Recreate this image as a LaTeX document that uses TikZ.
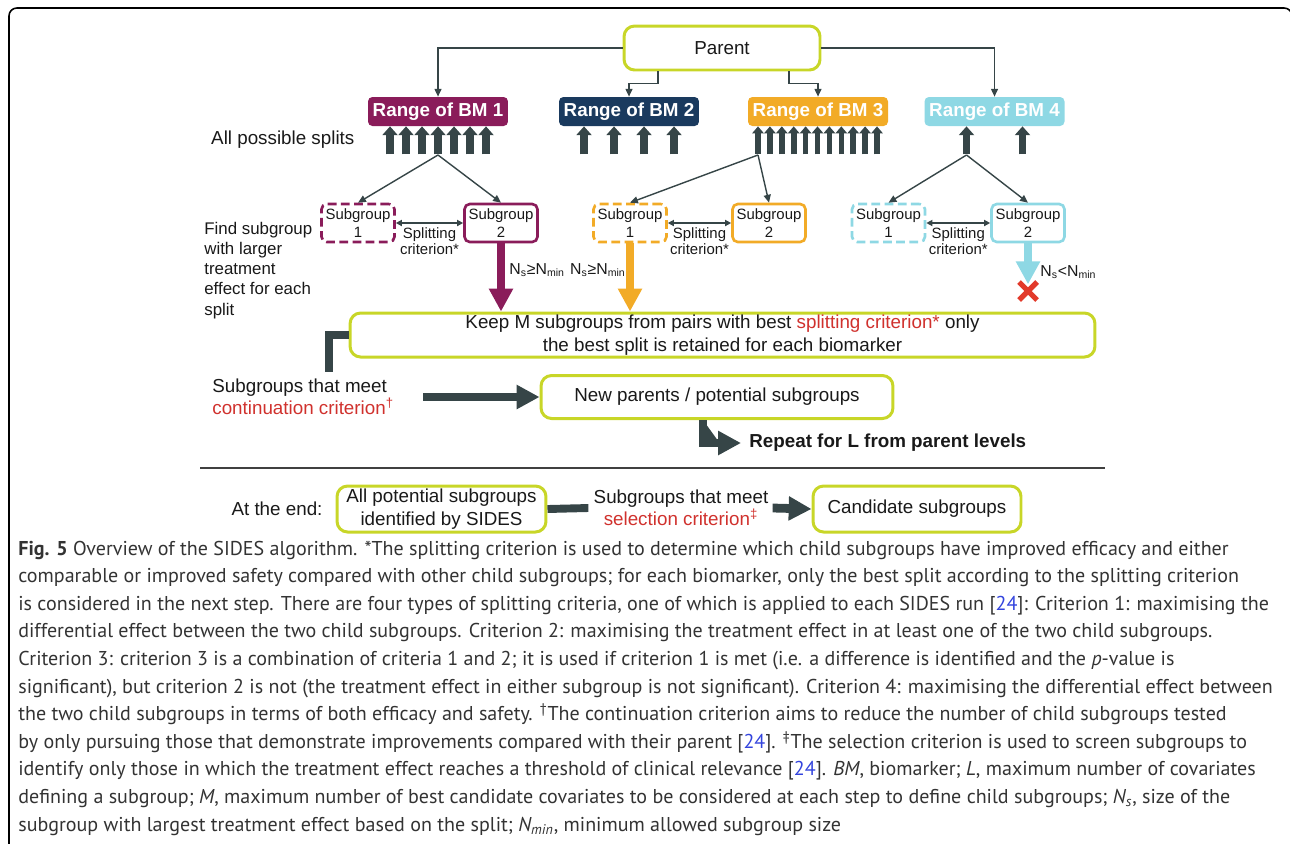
\documentclass[tikz,border=0pt]{standalone}
\usepackage{fontspec}
\setmainfont{Liberation Sans}
\newfontfamily\capfont{PT Sans}
\usetikzlibrary{arrows.meta}
\definecolor{lime}{RGB}{200,214,40}
\definecolor{bmone}{RGB}{138,28,90}
\definecolor{bmtwo}{RGB}{26,58,94}
\definecolor{bmthree}{RGB}{242,171,39}
\definecolor{bmfour}{RGB}{142,216,228}
\definecolor{slate}{RGB}{54,69,71}
\definecolor{critred}{RGB}{208,49,45}
\definecolor{xred}{RGB}{226,58,43}
\definecolor{citeblue}{RGB}{51,68,221}
\begin{document}
\begin{tikzpicture}[x=0.02cm,y=-0.02cm]
  \tikzstyle{every node}=[font=\fontsize{10.7}{12.8}\selectfont,text=black!90]
  \tikzstyle{limebox}=[draw=lime,line width=1.7pt,rounded corners=6pt,fill=white,align=center,inner sep=0pt]
  \tikzstyle{bmbox}=[rounded corners=2.5pt,text=white,font=\bfseries\fontsize{10.7}{12.8}\selectfont,minimum width=2.8cm,minimum height=0.58cm,inner sep=0pt]
  \tikzstyle{subbox}=[rounded corners=3pt,line width=1.5pt,fill=white,minimum width=1.46cm,minimum height=0.76cm,inner sep=0pt,align=center,font=\fontsize{8.5}{10.6}\selectfont]
  \tikzstyle{dashedbox}=[subbox,dash pattern=on 5pt off 2.5pt]
  \tikzstyle{small}=[font=\fontsize{8.5}{9.2}\selectfont,align=center,inner sep=1pt]
  \tikzstyle{conn}=[draw=slate,line width=0.8pt,-{Triangle[length=4.5pt,width=4pt]}]
  \tikzstyle{both}=[draw=slate,line width=0.8pt,{Triangle[length=3.5pt,width=3.5pt]}-{Triangle[length=3.5pt,width=3.5pt]}]
  \tikzstyle{splitarrow}=[draw=slate,line width=4.3pt,-{Triangle[length=5pt,width=8.5pt]}]
  \tikzstyle{thinsplit}=[draw=slate,line width=3.2pt,-{Triangle[length=4pt,width=6.5pt]}]
  \tikzstyle{fat}=[line width=5pt,-{Triangle[length=13pt,width=13pt]}]
  \tikzstyle{bar}=[draw=slate,line width=4.5pt]

  \useasboundingbox (0,0) rectangle (1290,843);
  \clip (0,0) rectangle (1290,843);
  \draw[line width=0.9pt,rounded corners=4.5pt] (9,846) -- (9,8) -- (1292,8) -- (1292,846);

  % top of the tree
  \node[limebox,minimum width=3.92cm,minimum height=0.88cm] (parent) at (722,48) {Parent};
  \node[bmbox,fill=bmone] (bm1) at (438,111.5) {Range of BM 1};
  \node[bmbox,fill=bmtwo] (bm2) at (629,111.5) {Range of BM 2};
  \node[bmbox,fill=bmthree] (bm3) at (818,111.5) {Range of BM 3};
  \node[bmbox,fill=bmfour] (bm4) at (994.5,111.5) {Range of BM 4};

  \draw[conn] (parent.west) -| (bm1.north);
  \draw[conn] ([xshift=-1.28cm]parent.south) -- ++(0,12) -| (bm2.north);
  \draw[conn] ([xshift=1.34cm]parent.south) -- ++(0,12) -| (bm3.north);
  \draw[conn] (parent.east) -| (bm4.north);

  \node[anchor=west] (allsplits) at (205,140) {All possible splits};

  % splits under each biomarker
  \foreach \dx in {-48,-32,-16,0,16,32,48}
    \draw[splitarrow] ([xshift=\dx*0.02cm]bm1.south) ++(0,28) -- ++(0,-28);
  \foreach \dx in {-45,-15,15,45}
    \draw[splitarrow] ([xshift=\dx*0.02cm]bm2.south) ++(0,28) -- ++(0,-28);
  \foreach \k in {0,...,10}
    \draw[thinsplit] ([xshift=(-60+11.9*\k)*0.02cm]bm3.south) ++(0,28) -- ++(0,-28);
  \foreach \dx in {-28,28}
    \draw[splitarrow] ([xshift=\dx*0.02cm]bm4.south) ++(0,28) -- ++(0,-28);

  \coordinate (b1) at (438,155);
  \coordinate (b3) at (758,155);
  \coordinate (b4) at (966.5,155);

  % child subgroups
  \node[dashedbox,draw=bmone] (s11) at (358,223) {Subgroup\\1};
  \node[subbox,draw=bmone] (s12) at (501,223) {Subgroup\\2};
  \node[dashedbox,draw=bmthree] (s31) at (630,223) {Subgroup\\1};
  \node[subbox,draw=bmthree] (s32) at (769,223) {Subgroup\\2};
  \node[dashedbox,draw=bmfour] (s41) at (888.5,223) {Subgroup\\1};
  \node[subbox,draw=bmfour] (s42) at (1028,223) {Subgroup\\2};

  \draw[conn] (b1) -- (s11.north);
  \draw[conn] (b1) -- (s12.north);
  \draw[conn] (b3) -- (s31.north);
  \draw[conn] (b3) -- (s32.north);
  \draw[conn] (b4) -- (s41.north);
  \draw[conn] (b4) -- (s42.north);

  \draw[both] (s11.east) -- (s12.west) node[small,midway,below=1pt] {Splitting\\criterion*};
  \draw[both] (s31.east) -- (s32.west) node[small,midway,below=1pt] {Splitting\\criterion*};
  \draw[both] (s41.east) -- (s42.west) node[small,midway,below=1pt] {Splitting\\criterion*};

  \node[anchor=base west,align=left,font=\fontsize{9.6}{11.4}\selectfont,inner sep=0pt] (find) at (204,315)
    {Find subgroup\\with larger\\treatment\\effect for each\\split};

  % keep / new parents
  \node[limebox,minimum width=14.9cm,minimum height=0.88cm] (keep) at (722.5,335)
    {Keep M subgroups from pairs with best {\color{critred}splitting criterion*} only\\the best split is retained for each biomarker};

  \draw[fat,draw=bmone,fill=bmone] (s12.south) -- (s12.south |- keep.north);
  \draw[fat,draw=bmthree,fill=bmthree] (s31.south) -- (s31.south |- keep.north);
  \draw[fat,draw=bmfour,fill=bmfour] (s42.south) -- ++(0,41);
  \coordinate (x4) at (1028,291);
  \draw[xred,line width=3pt] (x4) ++(-9,-9) -- ++(18,18) (x4) ++(-9,9) -- ++(18,-18);

  \node[anchor=west,inner sep=0pt,font=\fontsize{9}{10}\selectfont] (n1) at (509,270) {N\textsubscript{s}≥N\textsubscript{min}};
  \node[anchor=east,inner sep=0pt,font=\fontsize{9}{10}\selectfont] (n3) at (626,270) {N\textsubscript{s}≥N\textsubscript{min}};
  \node[anchor=west,inner sep=0pt,font=\fontsize{9}{10}\selectfont] (n4) at (1040,272) {N\textsubscript{s}<N\textsubscript{min}};

  \draw[bar] (keep.west) -- ++(-20,0) -- ++(0,37);
  \node[anchor=west,align=left,inner sep=0pt] (meet) at (212,397)
    {Subgroups that meet\\{\color{critred}continuation criterion\textsuperscript{†}}};
  \node[limebox,minimum width=7.04cm,minimum height=0.86cm] (new) at (717,397) {New parents / potential subgroups};
  \draw[fat,draw=slate,fill=slate] (423,397) -- (new.west);
  \node[anchor=west,font=\bfseries\fontsize{10.7}{12.8}\selectfont,inner sep=0pt] (rep) at (749,443) {Repeat for L from parent levels};
  \draw[fat,draw=slate,fill=slate] ([xshift=-0.28cm]new.south) |- ([xshift=-0.16cm]rep.west);

  \draw[line width=1.2pt,black!75] (200,468) -- (1105,468);

  % at the end
  \node (end) at (277,509) {At the end:};
  \node[limebox,minimum width=4.18cm,minimum height=0.92cm] (allp) at (441.5,509) {All potential subgroups\\identified by SIDES};
  \node[align=center,inner sep=0pt] (sel) at (681,508) {Subgroups that meet\\{\color{critred}selection criterion\textsuperscript{‡}}};
  \node[limebox,minimum width=4.16cm,minimum height=0.92cm] (cand) at (917,509) {Candidate subgroups};
  \draw[bar] (allp.east) -- ([xshift=-0.1cm]sel.west);
  \draw[fat,draw=slate,fill=slate] ([xshift=0.08cm]sel.east) -- (cand.west);

  % caption
  \node[anchor=base west,align=left,inner sep=0pt,text=black!80,font=\capfont\fontsize{11.4}{15.7}\selectfont] (caption) at (18,831)
    {\textbf{Fig. 5} Overview of the SIDES algorithm. *The splitting criterion is used to determine which child subgroups have improved efficacy and either\\
     comparable or improved safety compared with other child subgroups; for each biomarker, only the best split according to the splitting criterion\\
     is considered in the next step. There are four types of splitting criteria, one of which is applied to each SIDES run [{\color{citeblue}24}]: Criterion 1: maximising the\\
     differential effect between the two child subgroups. Criterion 2: maximising the treatment effect in at least one of the two child subgroups.\\
     Criterion 3: criterion 3 is a combination of criteria 1 and 2; it is used if criterion 1 is met (i.e. a difference is identified and the \textit{p}-value is\\
     significant), but criterion 2 is not (the treatment effect in either subgroup is not significant). Criterion 4: maximising the differential effect between\\
     the two child subgroups in terms of both efficacy and safety. \textsuperscript{†}The continuation criterion aims to reduce the number of child subgroups tested\\
     by only pursuing those that demonstrate improvements compared with their parent [{\color{citeblue}24}]. \textsuperscript{‡}The selection criterion is used to screen subgroups to\\
     identify only those in which the treatment effect reaches a threshold of clinical relevance [{\color{citeblue}24}]. \textit{BM}, biomarker; \textit{L}, maximum number of covariates\\
     defining a subgroup; \textit{M}, maximum number of best candidate covariates to be considered at each step to define child subgroups; \textit{N\textsubscript{s}}, size of the\\
     subgroup with largest treatment effect based on the split; \textit{N\textsubscript{min}}, minimum allowed subgroup size};
\end{tikzpicture}
\end{document}
